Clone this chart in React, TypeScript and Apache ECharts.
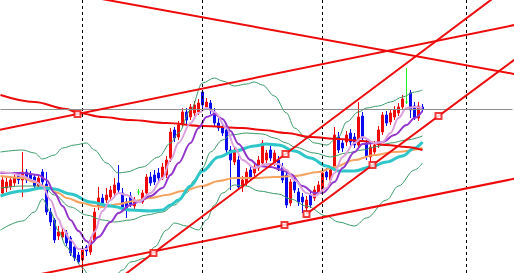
import React, { useEffect, useRef } from "react";
import * as echarts from "echarts";

// ---- data (time = candle index, price in chart units) ----
const slotCount = 128;
const slots = Array.from({ length: slotCount }, (_, i) => String(i));

// [open, close, low, high]
const candles: number[][] = [
  [80, 93, 77, 97], [85, 91, 81, 95], [86, 93, 83, 97], [90, 96, 87, 99], [98, 93, 89, 101],
  [93, 101, 76, 121], [101, 93, 90, 104], [99, 94, 91, 102], [96, 87, 84, 99], [87, 95, 84, 98],
  [101, 91, 88, 104], [89, 61, 58, 101], [61, 51, 47, 65], [53, 33, 30, 55], [37, 41, 33, 47],
  [36, 41, 33, 45], [40, 30, 27, 43], [35, 20, 17, 37], [26, 15, 12, 29], [18, 11, 9, 21],
  [13, 23, 3, 25], [26, 22, 17, 28], [21, 33, 18, 36], [33, 61, 31, 65], [67, 75, 63, 86],
  [75, 70, 67, 79], [73, 78, 70, 85], [76, 83, 73, 87], [80, 88, 77, 95], [90, 83, 80, 108],
  [80, 66, 63, 85], [71, 63, 55, 75], [77, 69, 66, 81], [67, 73, 64, 76], [81, 81, 78, 84],
  [71, 80, 69, 83], [80, 96, 78, 99], [96, 90, 87, 101], [98, 91, 88, 103], [100, 95, 92, 105],
  [95, 106, 93, 110], [98, 113, 95, 117], [115, 141, 111, 145], [143, 135, 131, 146], [136, 148, 133, 152],
  [150, 161, 146, 165], [161, 153, 149, 165], [156, 166, 153, 169], [160, 168, 157, 172], [161, 170, 158, 174],
  [181, 168, 165, 183], [166, 171, 163, 175], [170, 163, 159, 173], [161, 150, 146, 165], [150, 145, 142, 155],
  [146, 140, 137, 149], [143, 123, 120, 147], [123, 113, 83, 127], [111, 121, 108, 125], [113, 86, 83, 117],
  [86, 93, 81, 97], [90, 101, 87, 105], [103, 95, 92, 107], [100, 106, 97, 110], [105, 113, 102, 117],
  [110, 130, 107, 133], [113, 120, 110, 123], [123, 115, 112, 127], [110, 120, 107, 123], [113, 105, 102, 117],
  [106, 93, 90, 110], [98, 68, 65, 101], [70, 91, 67, 94], [91, 83, 80, 95], [81, 71, 67, 85],
  [76, 71, 60, 80], [65, 73, 60, 77], [78, 68, 65, 83], [75, 83, 72, 87], [81, 88, 78, 92],
  [83, 100, 80, 104], [101, 96, 93, 105], [93, 103, 90, 107], [105, 138, 102, 146], [136, 123, 120, 141],
  [130, 125, 121, 134], [131, 138, 127, 142], [140, 131, 127, 144], [136, 128, 125, 140], [128, 156, 125, 171],
  [157, 135, 132, 161], [130, 117, 113, 133], [116, 126, 111, 129], [121, 128, 118, 132], [128, 143, 125, 147],
  [141, 158, 138, 161], [158, 150, 147, 162], [151, 160, 148, 164], [156, 163, 153, 167], [160, 166, 157, 170],
  [166, 174, 163, 178], [171, 171, 169, 205], [180, 163, 155, 183], [167, 155, 153, 171], [155, 167, 152, 171],
  [166, 164, 161, 169],
];

// moving averages, [candle index, price]
const fastMA: number[][] = [
  [-0.5, 101], [2, 100], [5, 97], [8, 92], [10, 87], [12, 73], [14, 54], [15, 45], [17, 33], [19, 24],
  [21, 24], [23, 41], [25, 62], [27, 73], [29, 80], [31, 78], [34, 71], [37, 80], [40, 95], [42, 113],
  [44, 130], [47, 150], [49, 160], [51, 165], [53, 161], [56, 145], [58, 126], [60, 113], [63, 105], [66, 109],
  [69, 109], [71, 103], [73, 93], [76, 80], [78, 77], [81, 85], [83, 100], [85, 116], [88, 130], [90, 136],
  [93, 130], [95, 131], [97, 140], [99, 155], [101, 165], [103, 166], [105, 165],
];
const slowMA: number[][] = [
  [-0.5, 100], [5, 100], [9, 98], [11, 93], [13, 80], [15, 67], [17, 53], [19, 42], [21, 32], [22, 29],
  [24, 36], [27, 51], [29, 60], [32, 68], [34, 71], [37, 77], [40, 85], [42, 98], [44, 110], [47, 130],
  [49, 145], [51, 156], [53, 159], [55, 154], [57, 142], [59, 129], [62, 113], [64, 107], [67, 106], [70, 103],
  [72, 99], [75, 87], [78, 80], [80, 80], [83, 91], [85, 105], [88, 121], [90, 129], [93, 130], [95, 131],
  [98, 138], [101, 148], [103, 155], [105, 162],
];
const cyanMA: number[][] = [
  [-0.5, 77], [5, 82], [10, 85], [13, 84], [17, 79], [22, 71], [27, 67], [32, 63], [37, 62], [40, 63],
  [42, 68], [44, 73], [47, 87], [50, 102], [54, 116], [58, 122], [63, 127], [66, 129], [69, 128], [73, 122],
  [77, 115], [81, 107], [84, 102], [88, 102], [92, 106], [96, 111], [100, 117], [103, 125], [105, 131],
];
const orangeMA: number[][] = [
  [-0.5, 97], [5, 95], [8, 91], [11, 86], [14, 80], [16, 75], [20, 70], [23, 67], [25, 66], [29, 69],
  [33, 72], [37, 75], [41, 78], [45, 82], [50, 87], [54, 92], [58, 95], [63, 95], [68, 96], [73, 97],
  [79, 101], [83, 106], [88, 113], [93, 118], [98, 121], [105, 125],
];
const redMA: number[][] = [
  [-0.5, 178], [8, 171], [16, 164], [19, 160], [25, 156], [32, 153], [41, 150], [50, 147], [60, 145],
  [65, 143], [71, 140], [77, 136], [84, 134], [90, 132], [96, 128], [101, 126], [105, 123],
];
const bandUpper: number[][] = [
  [-0.5, 121], [5, 123], [8, 120], [10, 114], [13, 118], [15, 125], [18, 128], [21, 130], [23, 123], [26, 110],
  [29, 100], [31, 101], [35, 106], [39, 116], [42, 130], [44, 140], [47, 163], [50, 190], [53, 195], [55, 192],
  [58, 187], [61, 189], [63, 191], [65, 188], [68, 177], [71, 160], [73, 145], [76, 135], [78, 130], [81, 128],
  [84, 136], [86, 151], [89, 161], [91, 165], [94, 167], [97, 171], [100, 176], [103, 181], [105, 183],
];
const bandMiddle: number[][] = [
  [-0.5, 85], [5, 87], [10, 87], [13, 78], [17, 66], [21, 58], [25, 53], [28, 51], [32, 53], [36, 58],
  [40, 61], [43, 68], [46, 80], [48, 93], [50, 105], [52, 121], [55, 133], [57, 138], [61, 140], [65, 139],
  [68, 135], [71, 130], [73, 126], [78, 120], [82, 116], [86, 120], [90, 123], [93, 126], [97, 130], [101, 133],
  [105, 137],
];
const bandLower: number[][] = [
  [-0.5, 43], [5, 52], [8, 61], [10, 74], [12, 61], [14, 42], [16, 26], [18, 15], [20, 5], [22, -5],
  [27, -9], [30, 3], [32, 11], [36, 15], [38, 26], [41, 43], [43, 50], [46, 47], [49, 43], [51, 53],
  [53, 68], [55, 80], [58, 88], [61, 87], [64, 82], [69, 79], [72, 74], [76, 67], [81, 57], [84, 51],
  [88, 47], [91, 55], [96, 73], [99, 87], [103, 103], [105, 110],
];

// trend lines: two anchors [index, price]; ray: "both" or "right"
const trendLines = [
  { a: [20, 277.5], b: [116, 207.7], ray: "both" },
  { a: [18.75, 159], b: [116, 238.2], ray: "both" },
  { a: [37.75, 20], b: [70.75, 119], ray: "both" },
  { a: [76, 59], b: [109, 157], ray: "right" },
  { a: [32, 17], b: [70.5, 48], ray: "both" },
];
const anchorPoints: number[][] = [
  [18.75, 159], [37.75, 20], [70.75, 119], [76, 59], [92.5, 108], [109, 157], [70.5, 48],
];
const separators = [20, 50, 80, 116];
const bidPrice = 164;

// ---- styles ----
const RED = "#ee0a0a";
const BLUE = "#0a0aee";
const LIME = "#22ee22";

function extend(t: { a: number[]; b: number[]; ray: string }) {
  const [x1, y1] = t.a;
  const [x2, y2] = t.b;
  const k = (y2 - y1) / (x2 - x1);
  const left = t.ray === "both" ? -20 : x1;
  const right = 150;
  return [
    [left, y1 + k * (left - x1)],
    [right, y1 + k * (right - x1)],
  ];
}

function maSeries(data: number[][], color: string, width: number, z: number) {
  return {
    type: "line",
    xAxisIndex: 1,
    yAxisIndex: 0,
    data,
    smooth: 0.35,
    smoothMonotone: "x",
    showSymbol: false,
    symbol: "none",
    silent: true,
    clip: true,
    z,
    lineStyle: { color, width },
  };
}

export default function App() {
  const ref = useRef<HTMLDivElement>(null);
  useEffect(() => {
    if (!ref.current) return;
    const chart = echarts.init(ref.current, undefined, { renderer: "svg" });
    const candleData = candles.map((c) =>
      c[0] === c[1]
        ? {
            value: c,
            itemStyle: { color: LIME, color0: LIME, borderColor: LIME, borderColor0: LIME, borderColorDoji: LIME },
          }
        : c
    );
    const option: any = {
      animation: false,
      backgroundColor: "#ffffff",
      grid: { left: 0.5, top: 0, right: 1.5, bottom: 0 },
      xAxis: [
        { type: "category", data: slots, show: false, boundaryGap: true },
        { type: "value", min: -0.5, max: slotCount - 0.5, show: false },
      ],
      yAxis: { type: "value", min: 0, max: 273, show: false, splitLine: { show: false } },
      series: [
        {
          type: "line",
          xAxisIndex: 1,
          yAxisIndex: 0,
          data: [],
          silent: true,
          z: 1,
          markLine: {
            silent: true,
            symbol: ["none", "none"],
            label: { show: false },
            animation: false,
            data: [
              ...separators.map((s) => ({
                xAxis: s,
                lineStyle: { color: "#000000", width: 1, type: [3, 3] },
              })),
              { yAxis: bidPrice, lineStyle: { color: "#8f8f8f", width: 1, type: "solid" } },
            ],
          },
        },
        {
          type: "candlestick",
          xAxisIndex: 0,
          yAxisIndex: 0,
          data: candleData,
          barWidth: 2,
          silent: true,
          z: 2,
          itemStyle: {
            color: RED,
            color0: BLUE,
            borderColor: RED,
            borderColor0: BLUE,
            borderColorDoji: LIME,
            borderWidth: 1,
          },
        },
        maSeries(bandUpper, "#3a9a68", 1, 3),
        maSeries(bandMiddle, "#3a9a68", 1, 3),
        maSeries(bandLower, "#3a9a68", 1, 3),
        maSeries(orangeMA, "#f4a460", 2, 3),
        maSeries(cyanMA, "#2ec6c8", 3, 3),
        maSeries(redMA, RED, 2, 4),
        maSeries(slowMA, "#9435cc", 2, 4),
        maSeries(fastMA, "#dca0dc", 2, 4),
        ...trendLines.map((t) => ({
          type: "line",
          xAxisIndex: 1,
          yAxisIndex: 0,
          data: extend(t),
          showSymbol: false,
          symbol: "none",
          silent: true,
          clip: true,
          z: 5,
          lineStyle: { color: RED, width: 2 },
        })),
        {
          type: "scatter",
          xAxisIndex: 1,
          yAxisIndex: 0,
          data: anchorPoints,
          symbol: "rect",
          symbolSize: 6,
          silent: true,
          z: 6,
          itemStyle: { color: "#ffffff", borderColor: RED, borderWidth: 2 },
        },
      ],
    };
    chart.setOption(option);
    return () => chart.dispose();
  }, []);
  return (
    <div
      ref={ref}
      style={{ position: "absolute", left: 0, top: 0, width: 514, height: 273, background: "#fff" }}
    />
  );
}
